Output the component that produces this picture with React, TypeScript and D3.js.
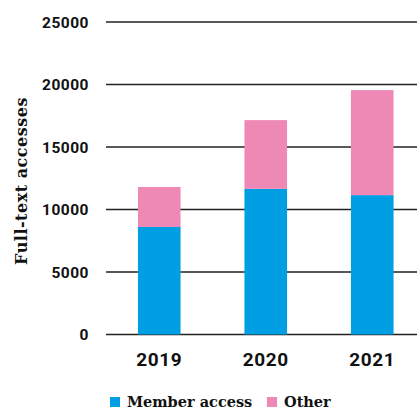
import React from "react";
import * as d3 from "d3";

const years = ["2019", "2020", "2021"];
const memberAccess = [8600, 11650, 11150];
const other = [3200, 5500, 8400];
const yTicks = [0, 5000, 10000, 15000, 20000, 25000];
const seriesNames = ["Member access", "Other"];
const colors = ["#009FE3", "#EE88B5"];

export default function App() {
  const W = 417, H = 409;
  const x = d3.scaleBand().domain(years).range([106, 425.5]).paddingInner(0.6).paddingOuter(0.3);
  const y = d3.scaleLinear().domain([0, 25000]).range([334.5, 22]);
  const data = years.map((yr, i) => ({ year: yr, member: memberAccess[i], other: other[i] }));
  const stack = d3.stack<any>().keys(["member", "other"])(data);
  return (
    <svg width={W} height={H} style={{ position: "absolute", left: 0, top: 0 }}>
      <rect width={W} height={H} fill="#fff" />
      {yTicks.map((t) => (
        <g key={t}>
          <line x1={106} x2={W} y1={y(t)} y2={y(t)} stroke="#222" strokeWidth={1.4} />
          <text x={89} y={y(t)} dy="0.36em" textAnchor="end" fontFamily="Roboto" fontWeight="bold" fontSize={15.5} letterSpacing={0.5} fill="#111">
            {t}
          </text>
        </g>
      ))}
      {stack.map((s, si) =>
        s.map((d, i) => (
          <rect key={si + "-" + i} x={x(years[i])} width={x.bandwidth()} y={y(d[1])} height={y(d[0]) - y(d[1])} fill={colors[si]} />
        ))
      )}
      {years.map((yr) => (
        <text key={yr} x={(x(yr) as number) + x.bandwidth() / 2} y={366} textAnchor="middle" fontFamily="Roboto" fontWeight="bold" fontSize={19} letterSpacing={0.6} fill="#111">
          {yr}
        </text>
      ))}
      <text transform={`translate(27,181) rotate(-90)`} textAnchor="middle" fontFamily="DejaVu Serif" fontWeight="bold" fontSize={16} fill="#111" letterSpacing={0.5}>
        Full-text  accesses
      </text>
      <g>
        <rect x={110} y={397} width={10} height={10} fill={colors[0]} />
        <text x={127} y={406.5} fontFamily="DejaVu Serif" fontWeight="bold" fontSize={14.5} fill="#111">{seriesNames[0]}</text>
        <rect x={267} y={397} width={10} height={10} fill={colors[1]} />
        <text x={284} y={406.5} fontFamily="DejaVu Serif" fontWeight="bold" fontSize={14.5} fill="#111">{seriesNames[1]}</text>
      </g>
    </svg>
  );
}
